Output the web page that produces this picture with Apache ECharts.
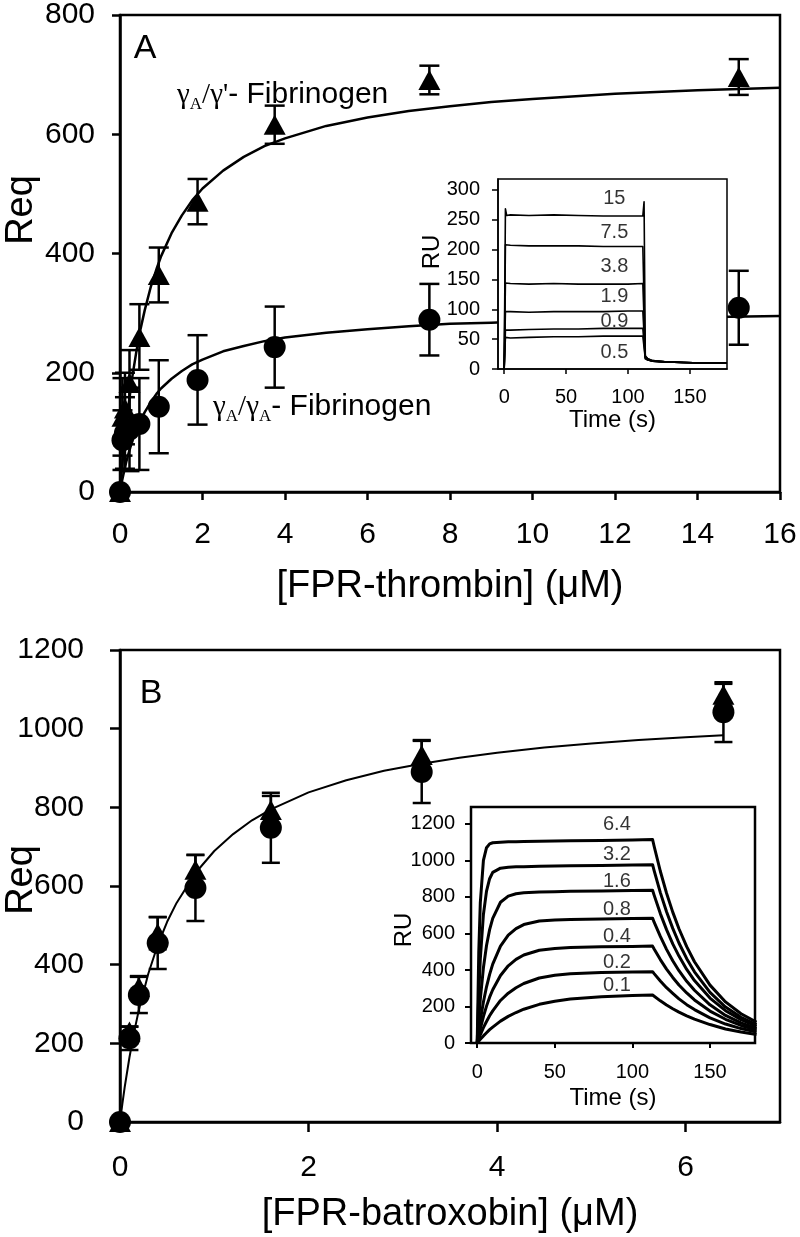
<!DOCTYPE html>
<html>
<head>
<meta charset="utf-8">
<script src="https://cdn.jsdelivr.net/npm/echarts@6/dist/echarts.min.js"></script>
<style>html,body{margin:0;padding:0;background:#fff}#c{width:800px;height:1237px}</style>
</head>
<body>
<div id="c"></div>
<script>
// ---------- Panel A data ----------
const concA = [0, 0.06, 0.12, 0.23, 0.47, 0.94, 1.88, 3.75, 7.5, 15];
const reqA_gammaPrime = [0, 126, 140, 183, 260, 364, 487, 616, 691, 696];
const errA_gammaPrime = [0, 65, 60, 55, 55, 46, 38, 32, 24, 30];
const reqA_gammaA = [0, 87, 99, 105, 114, 143, 188, 243, 289, 309];
const errA_gammaA = [0, 50, 60, 70, 77, 78, 75, 68, 60, 62];
const fitA_x = [0, 0.05, 0.1, 0.15, 0.2, 0.3, 0.4, 0.5, 0.6, 0.75, 0.9, 1.0, 1.25, 1.5, 1.75, 2, 2.5, 3, 3.5, 4, 5, 6, 7, 8, 9, 10, 12, 14, 16];
const fitA_gammaPrime = [0, 42, 79, 112, 142, 194, 237, 274, 305, 345, 377, 396, 434, 464, 489, 509, 539, 562, 580, 593, 614, 628, 639, 647, 654, 659, 668, 674, 678];
const fitA_gammaA = [0, 19, 35, 50, 63, 86, 105, 121, 134, 151, 166, 174, 190, 203, 214, 222, 236, 245, 253, 259, 267, 273, 278, 282, 284, 287, 290, 293, 295];

// ---------- Panel A inset (sensorgrams, FPR-thrombin) ----------
const insetA_time = [0, 1, 2, 5, 20, 40, 60, 80, 100, 112, 113, 114, 116, 120, 130, 145, 160, 180];
const insetA_15  = [0, 268, 257, 258, 257, 258, 257, 256, 256, 256, 280, 22, 17, 14, 12, 11, 10, 10];
const insetA_7_5 = [0, 208, 206, 207, 206, 206, 206, 205, 205, 205, 206, 21, 17, 14, 12, 11, 10, 10];
const insetA_3_8 = [0, 144, 142, 143, 142, 143, 142, 142, 142, 143, 143, 20, 16, 13, 12, 11, 10, 10];
const insetA_1_9 = [0, 96, 95, 96, 95, 96, 96, 96, 97, 97, 97, 19, 16, 13, 12, 11, 10, 10];
const insetA_0_9 = [0, 65, 64, 65, 66, 67, 67, 68, 68, 68, 68, 18, 15, 13, 12, 11, 10, 10];
const insetA_0_5 = [0, 53, 52, 52, 53, 54, 54, 55, 55, 55, 55, 17, 15, 13, 12, 11, 10, 10];
const insetA_labels = ['15', '7.5', '3.8', '1.9', '0.9', '0.5'];
const insetA_labelT = [89, 89, 89, 89, 89, 89];
const insetA_labelRU = [286, 229, 171, 121, 79, 27];

// ---------- Panel B data ----------
const concB = [0, 0.1, 0.2, 0.4, 0.8, 1.6, 3.2, 6.4];
const reqB_gammaPrime = [0, 230, 343, 480, 641, 793, 933, 1086];
const errB_gammaPrime = [0, 12, 28, 41, 38, 36, 38, 28];
const reqB_gammaA = [0, 213, 323, 455, 595, 748, 890, 1042];
const errB_gammaA = [0, 30, 46, 66, 84, 89, 79, 76];
const fitB_x = [0, 0.025, 0.05, 0.1, 0.15, 0.2, 0.3, 0.4, 0.5, 0.6, 0.8, 1.0, 1.2, 1.4, 1.6, 2.0, 2.4, 2.8, 3.2, 3.6, 4.0, 4.5, 5.0, 5.5, 6.0, 6.4];
const fitB_y = [0, 46, 89, 164, 229, 285, 377, 450, 509, 557, 633, 689, 732, 767, 795, 838, 869, 893, 911, 926, 939, 952, 962, 971, 978, 983];

// ---------- Panel B inset (sensorgrams, FPR-batroxobin) ----------
const insetB_time = [0, 1, 2, 4, 6, 8, 10, 15, 20, 25, 30, 40, 50, 60, 80, 100, 113, 114, 118, 122, 126, 130, 135, 140, 150, 160, 170, 180];
const insetB_6_4 = [0, 496, 769, 1000, 1070, 1091, 1097, 1100, 1102, 1103, 1104, 1105, 1107, 1108, 1110, 1112, 1115, 1078, 941, 821, 717, 626, 528, 445, 317, 225, 160, 114];
const insetB_3_2 = [0, 267, 461, 704, 832, 900, 935, 958, 963, 965, 966, 968, 970, 971, 973, 975, 977, 945, 824, 719, 628, 548, 462, 390, 277, 197, 141, 100];
const insetB_1_6 = [0, 131, 241, 412, 534, 621, 683, 771, 805, 818, 823, 827, 829, 831, 833, 835, 837, 810, 709, 621, 543, 476, 403, 342, 246, 177, 128, 91];
const insetB_0_8 = [0, 65, 124, 225, 308, 376, 432, 531, 591, 627, 649, 668, 674, 677, 680, 682, 684, 662, 584, 513, 451, 396, 338, 289, 209, 151, 110, 80];
const insetB_0_4 = [0, 41, 78, 145, 202, 251, 292, 370, 423, 458, 482, 508, 518, 523, 527, 529, 531, 515, 457, 405, 359, 318, 274, 236, 175, 130, 96, 71];
const insetB_0_2 = [0, 23, 45, 84, 118, 149, 176, 233, 273, 303, 326, 356, 371, 379, 386, 389, 391, 380, 340, 303, 272, 242, 210, 183, 138, 104, 79, 60];
const insetB_0_1 = [0, 10, 20, 39, 56, 73, 87, 120, 146, 167, 185, 212, 229, 241, 254, 260, 263, 256, 231, 208, 188, 169, 149, 131, 101, 77, 60, 46];
const insetB_labels = ['6.4', '3.2', '1.6', '0.8', '0.4', '0.2', '0.1'];
const insetB_labelT = [90, 90, 90, 90, 90, 90, 90];
const insetB_labelRU = [1196, 1032, 884, 731, 583, 440, 314];

// ---------- helpers ----------
const SANS = '"Liberation Sans", Arial, Helvetica, sans-serif';
const SERIF = '"Liberation Serif", "Times New Roman", serif';
const plain = v => String(v);
const zip = (xs, ys) => xs.map((x, i) => [x, ys[i]]);
const zip3 = (xs, ys, es) => xs.map((x, i) => [x, ys[i], es[i]]);

function errSeries(idx, xs, ys, es, capHalf, lw) {
  return {
    type: 'custom', xAxisIndex: idx, yAxisIndex: idx, z: 3, clip: false,
    data: zip3(xs, ys, es),
    renderItem: function (params, api) {
      const x = api.value(0), y = api.value(1), e = api.value(2);
      if (!e) return { type: 'group', children: [] };
      const t = api.coord([x, y + e]), b = api.coord([x, y - e]);
      const st = { stroke: '#000', lineWidth: lw };
      return { type: 'group', children: [
        { type: 'line', shape: { x1: t[0], y1: t[1], x2: b[0], y2: b[1] }, style: st },
        { type: 'line', shape: { x1: t[0] - capHalf, y1: t[1], x2: t[0] + capHalf, y2: t[1] }, style: st },
        { type: 'line', shape: { x1: b[0] - capHalf, y1: b[1], x2: b[0] + capHalf, y2: b[1] }, style: st }
      ]};
    }
  };
}
function fitLine(idx, xs, ys, lw) {
  return { type: 'line', xAxisIndex: idx, yAxisIndex: idx, data: zip(xs, ys), showSymbol: false,
    smooth: false, lineStyle: { color: '#000', width: lw, join: 'round' }, z: 2 };
}
function markers(idx, xs, ys, symbol, size) {
  return { type: 'scatter', xAxisIndex: idx, yAxisIndex: idx, data: zip(xs, ys), symbol: symbol,
    symbolSize: size, itemStyle: { color: '#000', opacity: 1 }, z: 4, clip: false };
}
function sensor(idx, ts, vs, lw) {
  return { type: 'line', xAxisIndex: idx, yAxisIndex: idx, data: zip(ts, vs), showSymbol: false,
    lineStyle: { color: '#000', width: lw, join: 'round' }, z: 12 };
}
function insetLabels(idx, names, ts, vs) {
  return { type: 'scatter', xAxisIndex: idx, yAxisIndex: idx, symbolSize: 0, z: 13,
    data: names.map((n, i) => ({ name: n, value: [ts[i], vs[i]] })),
    label: { show: true, position: 'inside', formatter: '{b}', color: '#000', fontSize: 20, fontFamily: SANS } };
}
function mainX(idx, max, interval, ticks, name, margin, nameGap, tickLen) {
  return { type: 'value', gridIndex: idx, min: 0, max: max, interval: interval,
    axisLine: { show: true, onZero: false, lineStyle: { color: '#000', width: 2.5 } },
    axisTick: { show: true, length: tickLen, customValues: ticks, lineStyle: { color: '#000', width: 2.5 } },
    axisLabel: { customValues: ticks, formatter: plain, color: '#000', fontSize: 30, fontFamily: SANS, margin: margin },
    splitLine: { show: false },
    name: name, nameLocation: 'middle', nameGap: nameGap,
    nameTextStyle: { color: '#000', fontSize: 38, fontFamily: SANS } };
}
function mainY(idx, max, interval, margin, tickLen) {
  return { type: 'value', gridIndex: idx, min: 0, max: max, interval: interval,
    axisLine: { show: true, onZero: false, lineStyle: { color: '#000', width: 2.5 } },
    axisTick: { show: true, length: tickLen, lineStyle: { color: '#000', width: 2.5 } },
    axisLabel: { formatter: plain, color: '#000', fontSize: 30, fontFamily: SANS, margin: margin },
    splitLine: { show: false } };
}
function insetX(idx, min, max, ticks, margin, nameGap, lw) {
  return { type: 'value', gridIndex: idx, min: min, max: max, z: 11,
    axisLine: { show: true, onZero: false, lineStyle: { color: '#000', width: lw } },
    axisTick: { show: true, length: 5, customValues: ticks, lineStyle: { color: '#000', width: lw } },
    axisLabel: { customValues: ticks, formatter: plain, color: '#000', fontSize: 20, fontFamily: SANS, margin: margin },
    splitLine: { show: false },
    name: 'Time (s)', nameLocation: 'middle', nameGap: nameGap,
    nameTextStyle: { color: '#000', fontSize: 24, fontFamily: SANS } };
}
function insetY(idx, max, ticks, margin, lw) {
  return { type: 'value', gridIndex: idx, min: 0, max: max, z: 11,
    axisLine: { show: true, onZero: false, lineStyle: { color: '#000', width: lw } },
    axisTick: { show: true, length: 6, customValues: ticks, lineStyle: { color: '#000', width: lw } },
    axisLabel: { customValues: ticks, formatter: plain, color: '#000', fontSize: 20, fontFamily: SANS, margin: margin },
    splitLine: { show: false } };
}
function txt(x, y, text, size, rot, family) {
  return { type: 'text', x: x, y: y, rotation: rot || 0, z: 50,
    style: { text: text, fontSize: size, fontFamily: family || SANS, fill: '#000', align: 'center', verticalAlign: 'middle' } };
}
const richStyles = {
  g: { fontFamily: SERIF, fontSize: 29, lineHeight: 36, fill: '#000', color: '#000' },
  s: { fontFamily: SERIF, fontSize: 17, lineHeight: 17, verticalAlign: 'bottom', fill: '#000', color: '#000' },
  t: { fontFamily: SANS, fontSize: 30, lineHeight: 36, fill: '#000', color: '#000' }
};
function richTxt(x, y, text) {
  return { type: 'text', x: x, y: y, z: 50,
    style: { text: text, rich: richStyles, fill: '#000', align: 'left', verticalAlign: 'middle', fontSize: 30, fontFamily: SANS } };
}

const chart = echarts.init(document.getElementById('c'), null, { renderer: 'canvas' });
const option = {
  animation: false,
  backgroundColor: '#fff',
  grid: [
    { left: 120, top: 15, width: 660, height: 477, show: true, borderColor: '#000', borderWidth: 2.5, backgroundColor: 'transparent' },
    { left: 120, top: 650, width: 660, height: 472, show: true, borderColor: '#000', borderWidth: 2.5, backgroundColor: 'transparent' },
    { left: 498, top: 179, width: 229, height: 190, show: true, borderColor: '#000', borderWidth: 1.5, backgroundColor: '#fff', z: 10 },
    { left: 471, top: 807, width: 284, height: 236, show: true, borderColor: '#000', borderWidth: 2.5, backgroundColor: '#fff', z: 10 }
  ],
  xAxis: [
    mainX(0, 16, 2, [0, 2, 4, 6, 8, 10, 12, 14, 16], '[FPR-thrombin] (\u03bcM)', 28, 76, 8),
    mainX(1, 7, 1, [0, 2, 4, 6], '[FPR-batroxobin] (\u03bcM)', 31, 74, 10),
    insetX(2, -5, 180, [0, 50, 100, 150], 18, 37, 1.5),
    insetX(3, -4, 179, [0, 50, 100, 150], 19, 43, 2)
  ],
  yAxis: [
    mainY(0, 800, 200, 25, 8),
    mainY(1, 1200, 200, 36, 10),
    insetY(2, 318, [0, 50, 100, 150, 200, 250, 300], 18, 1.5),
    insetY(3, 1293, [0, 200, 400, 600, 800, 1000, 1200], 16, 2)
  ],
  series: [
    fitLine(0, fitA_x, fitA_gammaPrime, 2.5),
    fitLine(0, fitA_x, fitA_gammaA, 2.5),
    errSeries(0, concA, reqA_gammaPrime, errA_gammaPrime, 10, 2.5),
    errSeries(0, concA, reqA_gammaA, errA_gammaA, 10, 2.5),
    markers(0, concA, reqA_gammaPrime, 'triangle', [22, 20]),
    markers(0, concA, reqA_gammaA, 'circle', 22),

    fitLine(1, fitB_x, fitB_y, 2),
    errSeries(1, concB, reqB_gammaPrime, errB_gammaPrime, 9, 2.5),
    errSeries(1, concB, reqB_gammaA, errB_gammaA, 9, 2.5),
    markers(1, concB, reqB_gammaPrime, 'triangle', [22, 20]),
    markers(1, concB, reqB_gammaA, 'circle', 22),

    sensor(2, insetA_time, insetA_15, 1.6),
    sensor(2, insetA_time, insetA_7_5, 1.6),
    sensor(2, insetA_time, insetA_3_8, 1.6),
    sensor(2, insetA_time, insetA_1_9, 1.6),
    sensor(2, insetA_time, insetA_0_9, 1.6),
    sensor(2, insetA_time, insetA_0_5, 1.6),
    insetLabels(2, insetA_labels, insetA_labelT, insetA_labelRU),

    sensor(3, insetB_time, insetB_6_4, 3),
    sensor(3, insetB_time, insetB_3_2, 3),
    sensor(3, insetB_time, insetB_1_6, 3),
    sensor(3, insetB_time, insetB_0_8, 3),
    sensor(3, insetB_time, insetB_0_4, 3),
    sensor(3, insetB_time, insetB_0_2, 3),
    sensor(3, insetB_time, insetB_0_1, 3),
    insetLabels(3, insetB_labels, insetB_labelT, insetB_labelRU)
  ],
  graphic: [
    txt(22, 210, 'Req', 38, Math.PI / 2),
    txt(22, 880, 'Req', 38, Math.PI / 2),
    txt(145, 49, 'A', 34),
    txt(151, 694, 'B', 34),
    txt(432, 252, 'RU', 24, Math.PI / 2),
    txt(404, 930, 'RU', 24, Math.PI / 2),
    richTxt(177, 95, "{g|\u03b3}{s|A}{g|/\u03b3'}{t|- Fibrinogen}"),
    richTxt(213, 407, "{g|\u03b3}{s|A}{g|/\u03b3}{s|A}{t|- Fibrinogen}")
  ]
};
chart.setOption(option);
</script>
</body>
</html>
